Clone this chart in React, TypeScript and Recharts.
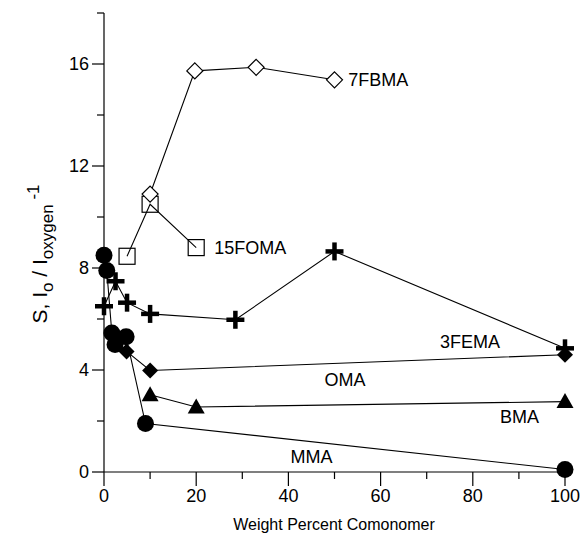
import React from 'react';
import { LineChart, Line, XAxis, YAxis, ReferenceDot } from 'recharts';

// ---- data ----
const xFBMA = [10, 19.7, 33, 50];
const yFBMA = [10.9, 15.73, 15.87, 15.38];

const xFOMA = [5, 10, 20];
const yFOMA = [8.46, 10.5, 8.8];

const xFEMA = [0, 2.5, 5, 10, 28.5, 50, 100];
const yFEMA = [6.5, 7.48, 6.64, 6.2, 5.97, 8.65, 4.85];

const xOMA = [4.9, 10, 100];
const yOMA = [4.73, 3.98, 4.6];

const xBMA = [10, 20, 100];
const yBMA = [3.03, 2.55, 2.76];

const xMMA = [0, 0.6, 1.7, 2.4, 4.8, 9, 100];
const yMMA = [8.5, 7.9, 5.45, 5.0, 5.3, 1.9, 0.1];

const xTicks = [0, 10, 20, 30, 40, 50, 60, 70, 80, 90, 100];
const yTicks = [0, 2, 4, 6, 8, 10, 12, 14, 16, 18];

const seriesNames = ['7FBMA', '15FOMA', '3FEMA', 'OMA', 'BMA', 'MMA'];
const labelX = [53, 23.9, 72.9, 52.3, 85.9, 45];
const labelY = [15.38, 8.8, 5.1, 3.6, 2.16, 0.6];
const labelAnchor = ['start', 'start', 'start', 'middle', 'start', 'middle'];

const zip = (xs: number[], ys: number[]) => xs.map((x, i) => ({ x, y: ys[i] }));

const FONT = 'Liberation Sans, Arial, sans-serif';

const YTick = (props: any) => {
  const { x, y, payload } = props;
  const v = payload.value;
  const major = v % 4 === 0;
  return (
    <g>
      <line x1={x - (major ? 12 : 7)} x2={x} y1={y} y2={y} stroke="#000" strokeWidth={1.2} />
      {major && (
        <text x={x - 15} y={y} textAnchor="end" dominantBaseline="central" fontSize={18} fontFamily={FONT} fill="#000">
          {v}
        </text>
      )}
    </g>
  );
};

const XTick = (props: any) => {
  const { x, y, payload } = props;
  const v = payload.value;
  const major = v % 20 === 0;
  return (
    <g>
      <line x1={x} x2={x} y1={y} y2={y + (major ? 14 : 7)} stroke="#000" strokeWidth={1.2} />
      {major && (
        <text x={x} y={y + 30} textAnchor="middle" fontSize={18} fontFamily={FONT} fill="#000">
          {v}
        </text>
      )}
    </g>
  );
};

const OpenDiamond = (p: any) => {
  const { cx, cy, index } = p;
  const r = 8;
  return <path key={index} d={`M${cx},${cy - r}L${cx + r},${cy}L${cx},${cy + r}L${cx - r},${cy}Z`} fill="#fff" stroke="#000" strokeWidth={1.2} />;
};
const OpenSquare = (p: any) => {
  const { cx, cy, index } = p;
  const s = 8;
  return <rect key={index} x={cx - s} y={cy - s} width={2 * s} height={2 * s} fill="none" stroke="#000" strokeWidth={1.2} />;
};
const Plus = (p: any) => {
  const { cx, cy, index } = p;
  const r = 9;
  return (
    <g key={index}>
      <line x1={cx - r} x2={cx + r} y1={cy} y2={cy} stroke="#000" strokeWidth={4.5} />
      <line x1={cx} x2={cx} y1={cy - r} y2={cy + r} stroke="#000" strokeWidth={4.5} />
    </g>
  );
};
const FilledDiamond = (p: any) => {
  const { cx, cy, index } = p;
  const r = 8;
  return <path key={index} d={`M${cx},${cy - r}L${cx + r},${cy}L${cx},${cy + r}L${cx - r},${cy}Z`} fill="#000" />;
};
const Triangle = (p: any) => {
  const { cx, cy, index } = p;
  return <path key={index} d={`M${cx},${cy - 8.5}L${cx + 8.5},${cy + 6.5}L${cx - 8.5},${cy + 6.5}Z`} fill="#000" />;
};
const Circle = (p: any) => {
  const { cx, cy, index } = p;
  return <circle key={index} cx={cx} cy={cy} r={8.5} fill="#000" />;
};

export default function App() {
  return (
    <div style={{ position: 'absolute', left: 0, top: 0, background: '#fff' }}>
      <LineChart width={586} height={536} margin={{ top: 13, right: 21, bottom: 0, left: 0 }}>
        <XAxis
          type="number"
          dataKey="x"
          domain={[0, 100]}
          ticks={xTicks}
          interval={0}
          height={64}
          tickSize={0}
          tickMargin={0}
          tick={<XTick />}
          tickLine={false}
          axisLine={{ stroke: '#000', strokeWidth: 1.2 }}
        />
        <YAxis
          type="number"
          dataKey="y"
          domain={[0, 18]}
          ticks={yTicks}
          interval={0}
          width={104}
          tickSize={0}
          tickMargin={0}
          tick={<YTick />}
          tickLine={false}
          axisLine={{ stroke: '#000', strokeWidth: 1.2 }}
        />
        <Line data={zip(xMMA, yMMA)} dataKey="y" stroke="#000" strokeWidth={1.1} dot={Circle} isAnimationActive={false} />
        <Line data={zip(xBMA, yBMA)} dataKey="y" stroke="#000" strokeWidth={1.1} dot={Triangle} isAnimationActive={false} />
        <Line data={zip(xOMA, yOMA)} dataKey="y" stroke="#000" strokeWidth={1.1} dot={FilledDiamond} isAnimationActive={false} />
        <Line data={zip(xFEMA, yFEMA)} dataKey="y" stroke="#000" strokeWidth={1.1} dot={Plus} isAnimationActive={false} />
        <Line data={zip(xFOMA, yFOMA)} dataKey="y" stroke="#000" strokeWidth={1.1} dot={OpenSquare} isAnimationActive={false} />
        <Line data={zip(xFBMA, yFBMA)} dataKey="y" stroke="#000" strokeWidth={1.1} dot={OpenDiamond} isAnimationActive={false} />
        {seriesNames.map((n, i) => (
          <ReferenceDot
            key={n}
            x={labelX[i]}
            y={labelY[i]}
            r={0}
            fill="none"
            stroke="none"
            label={(lp: any) => (
              <text
                x={lp.viewBox ? lp.viewBox.x + (lp.viewBox.width || 0) / 2 : 0}
                y={lp.viewBox ? lp.viewBox.y + (lp.viewBox.height || 0) / 2 : 0}
                textAnchor={labelAnchor[i] as any}
                dominantBaseline="central"
                fontSize={18}
                fontFamily={FONT}
                fill="#000"
              >
                {n}
              </text>
            )}
          />
        ))}
        <text x={334} y={530} textAnchor="middle" fontSize={16} fontFamily={FONT} fill="#000">
          Weight Percent Comonomer
        </text>
        <text transform="translate(47,254) rotate(-90)" textAnchor="middle" fontSize={21} fontFamily={FONT} fill="#000">
          <tspan>S,  I</tspan>
          <tspan fontSize={17} dy={6}>o</tspan>
          <tspan dy={-6}>  /  I</tspan>
          <tspan fontSize={17} dy={6}>oxygen</tspan>
          <tspan fontSize={17} dy={-14}>  -1</tspan>
        </text>
      </LineChart>
    </div>
  );
}
